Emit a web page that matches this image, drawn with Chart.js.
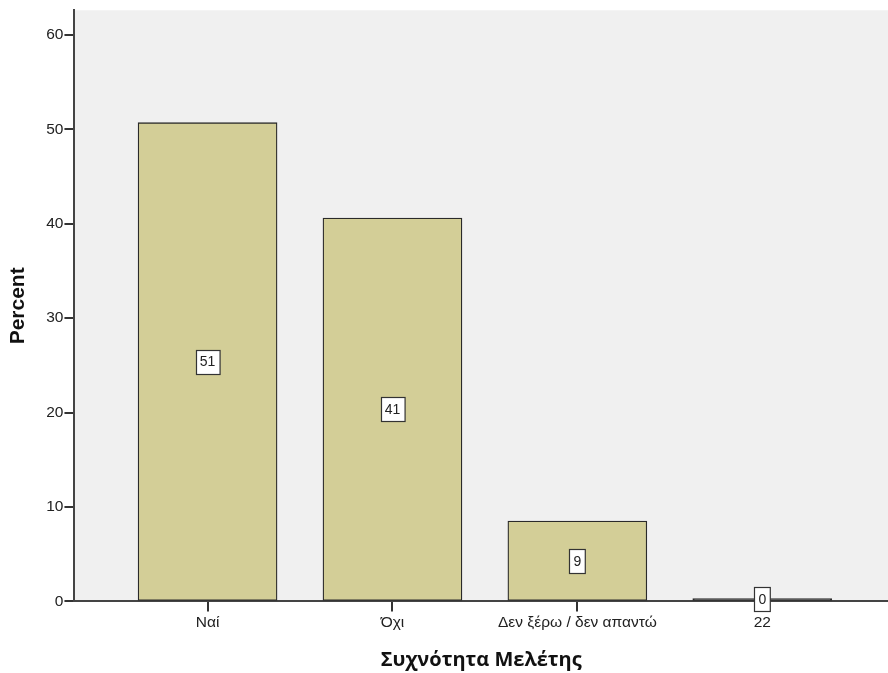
<!DOCTYPE html>
<html>
<head>
<meta charset="utf-8">
<script src="https://cdn.jsdelivr.net/npm/chart.js@4.4.1/dist/chart.umd.min.js"></script>
<style>
  html, body { margin: 0; padding: 0; background: #ffffff; }
  #wrap { width: 888px; height: 673px; position: relative; }
</style>
</head>
<body>
<div id="wrap"><canvas id="c" width="888" height="673"></canvas></div>
<script>
const categories = ['Ναί', 'Όχι', 'Δεν ξέρω / δεν απαντώ', '22'];
const percentValues = [50.7, 40.6, 8.5, 0.3];
const yTicks = [0, 10, 20, 30, 40, 50, 60];
const xTitle = 'Συχνότητα Μελέτης';
const yTitle = 'Percent';

const plotBg = {
  id: 'plotBg',
  beforeDraw(chart) {
    const { ctx, chartArea: a } = chart;
    ctx.save();
    ctx.fillStyle = '#f0f0f0';
    ctx.fillRect(a.left, a.top, a.right - a.left, a.bottom - a.top);
    ctx.restore();
  }
};

const valueBoxes = {
  id: 'valueBoxes',
  afterDatasetsDraw(chart) {
    const { ctx } = chart;
    const meta = chart.getDatasetMeta(0);
    ctx.save();
    ctx.font = '14px "Liberation Sans", Arial, sans-serif';
    ctx.textAlign = 'center';
    ctx.textBaseline = 'middle';
    meta.data.forEach((bar, i) => {
      const txt = String(Math.round(percentValues[i]));
      const cy = (bar.y + bar.base) / 2;
      const w = ctx.measureText(txt).width + 8;
      const h = 24;
      const x0 = Math.round(bar.x - w / 2) + 0.5;
      const y0 = Math.round(cy - h / 2) + 0.5;
      ctx.fillStyle = '#ffffff';
      ctx.fillRect(x0, y0, w, h);
      ctx.strokeStyle = '#333333';
      ctx.lineWidth = 1.2;
      ctx.strokeRect(x0, y0, w, h);
      ctx.fillStyle = '#222222';
      ctx.fillText(txt, bar.x, cy + 1);
    });
    ctx.restore();
  }
};

new Chart(document.getElementById('c'), {
  type: 'bar',
  data: {
    datasets: [{
      data: percentValues.map((v, i) => ({ x: i, y: v })),
      backgroundColor: (c) => (c.raw && c.raw.y < 1 ? '#2a2a2a' : '#d3ce97'),
      borderColor: '#2a2a2a',
      borderWidth: 1.3,
      borderSkipped: false,
      barThickness: 139
    }]
  },
  options: {
    responsive: false,
    animation: false,
    layout: { padding: { top: 10, right: 0, left: 6, bottom: 1 } },
    plugins: { legend: { display: false }, tooltip: { enabled: false } },
    scales: {
      x: {
        type: 'linear',
        offset: false,
        min: -0.72,
        max: 3.68,
        afterBuildTicks(scale) { scale.ticks = categories.map((_, i) => ({ value: i })); },
        grid: { offset: false, drawOnChartArea: false, drawTicks: true, tickLength: 10, color: '#333333', lineWidth: 2 },
        border: { color: '#444444', width: 2 },
        ticks: {
          callback: (v) => categories[v] ?? '',
          color: '#222222',
          padding: 2,
          maxRotation: 0,
          autoSkip: false,
          font: { family: '"Liberation Sans", Arial, sans-serif', size: 15.5 }
        },
        title: {
          display: true,
          text: xTitle,
          color: '#111111',
          padding: { top: 14, bottom: 0 },
          font: { family: '"Open Sans", "Noto Sans", sans-serif', size: 20, weight: 'bold' }
        }
      },
      y: {
        min: 0,
        max: 62.6,
        afterBuildTicks(scale) { scale.ticks = yTicks.map(v => ({ value: v })); },
        grid: { drawOnChartArea: false, drawTicks: true, tickLength: 10, color: '#333333', lineWidth: 2 },
        border: { color: '#444444', width: 2 },
        ticks: {
          color: '#222222',
          padding: 1,
          font: { family: '"Liberation Sans", Arial, sans-serif', size: 15.5 }
        },
        title: {
          display: true,
          text: yTitle,
          color: '#111111',
          padding: { top: 0, bottom: 14 },
          font: { family: '"Liberation Sans", Arial, sans-serif', size: 21, weight: 'bold' }
        }
      }
    }
  },
  plugins: [plotBg, valueBoxes]
});
</script>
</body>
</html>
